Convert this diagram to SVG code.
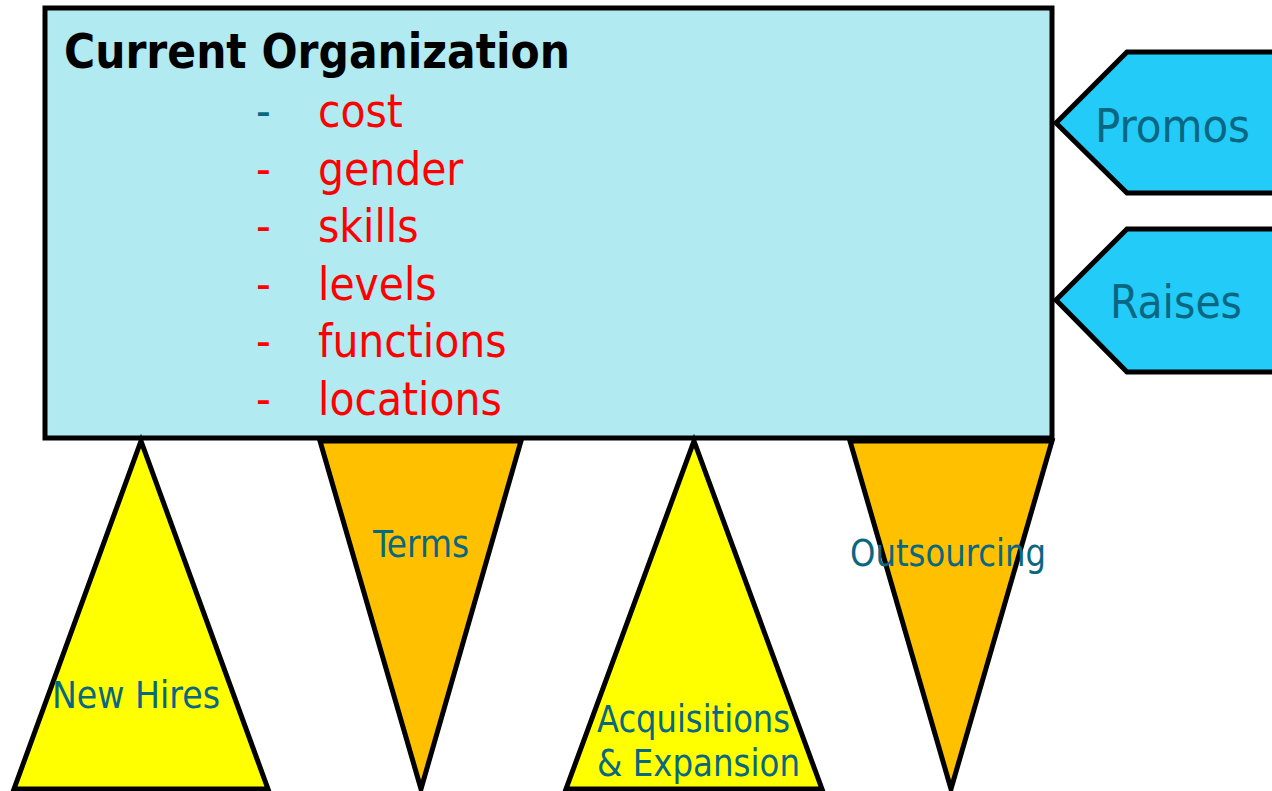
<svg xmlns="http://www.w3.org/2000/svg" width="1272" height="791" viewBox="0 0 1272 791">
  <style>
    .shape { stroke: #000; stroke-width: 5; stroke-linejoin: miter; }
    .org { fill: #B2EAF2; }
    .tab { fill: #22CBF8; }
    .up { fill: #FFFF00; }
    .down { fill: #FFC000; }
    .t { font-family: "DejaVu Sans Condensed", "DejaVu Sans", sans-serif; font-stretch: condensed; }
    .title { font-size: 47.5px; font-weight: bold; fill: #000; }
    .item { font-size: 45.5px; fill: #FF0000; }
    .lbl { fill: #0A6782; }
    .big { font-size: 46.5px; }
    .small { font-size: 36.5px; }
  </style>
  <rect width="1272" height="791" fill="#fff"/>

  <g id="current-organization">
    <rect class="shape org" x="45" y="8" width="1007" height="430"/>
    <text class="t title" x="64" y="68" textLength="506" lengthAdjust="spacingAndGlyphs">Current Organization</text>
    <g class="t item">
      <text x="256" y="127" fill="#0A6782">-</text><text x="318" y="127">cost</text>
      <text x="256" y="185">-</text><text x="318" y="185">gender</text>
      <text x="256" y="242">-</text><text x="318" y="242">skills</text>
      <text x="256" y="300">-</text><text x="318" y="300">levels</text>
      <text x="256" y="357">-</text><text x="318" y="357">functions</text>
      <text x="256" y="415">-</text><text x="318" y="415">locations</text>
    </g>
  </g>

  <g id="promos">
    <polygon class="shape tab" points="1056,123 1127,52 1280,52 1280,193 1127,193"/>
    <text class="t lbl big" x="1095" y="142" textLength="155" lengthAdjust="spacingAndGlyphs">Promos</text>
  </g>

  <g id="raises">
    <polygon class="shape tab" points="1056,300 1127,229 1280,229 1280,372 1127,372"/>
    <text class="t lbl big" x="1110" y="318" textLength="132" lengthAdjust="spacingAndGlyphs">Raises</text>
  </g>

  <g id="new-hires">
    <polygon class="shape up" points="141,441 268,789 14,789"/>
    <text class="t lbl small" x="52" y="708" textLength="168" lengthAdjust="spacingAndGlyphs">New Hires</text>
  </g>

  <g id="terms">
    <polygon class="shape down" points="320,441 521,441 421,789"/>
    <text class="t lbl small" x="373" y="557" textLength="96" lengthAdjust="spacingAndGlyphs">Terms</text>
  </g>

  <g id="acquisitions">
    <polygon class="shape up" points="694,441 822,789 566,789"/>
    <text class="t lbl small" x="597" y="732" textLength="193" lengthAdjust="spacingAndGlyphs">Acquisitions</text>
    <text class="t lbl small" x="597" y="776" textLength="203" lengthAdjust="spacingAndGlyphs">&amp; Expansion</text>
  </g>

  <g id="outsourcing">
    <polygon class="shape down" points="850,441 1052,441 951,789"/>
    <text class="t lbl small" x="850" y="566" textLength="196" lengthAdjust="spacingAndGlyphs">Outsourcing</text>
  </g>

  <g id="connectors"></g>
</svg>
